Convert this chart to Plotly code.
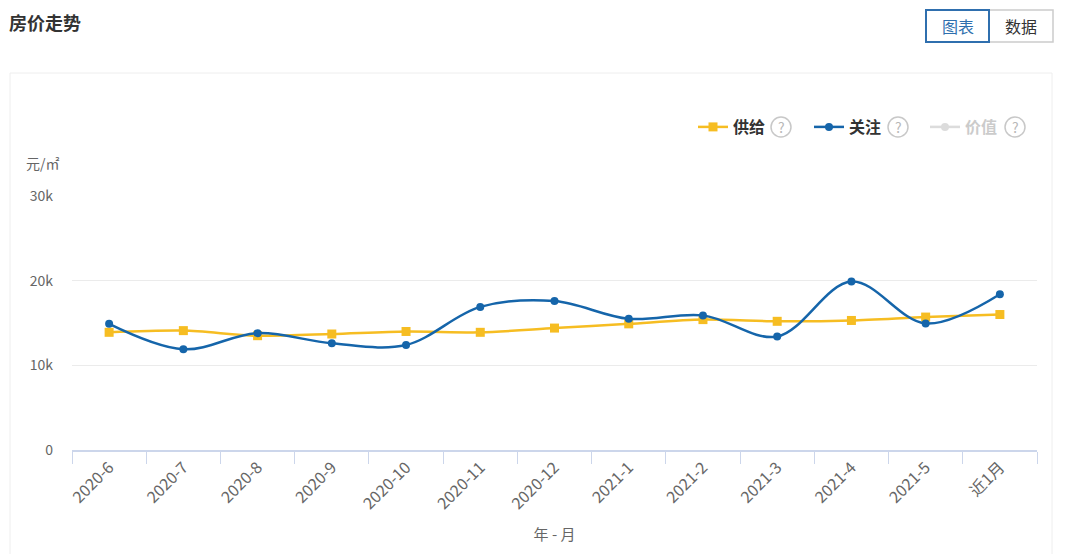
import plotly.graph_objects as go

months = ["2020-6", "2020-7", "2020-8", "2020-9", "2020-10", "2020-11", "2020-12",
          "2021-1", "2021-2", "2021-3", "2021-4", "2021-5", "近1月"]
supply = [13900, 14100, 13500, 13700, 14000, 13900, 14400, 14900, 15400, 15200, 15300, 15700, 16000]
attention = [14900, 11900, 13800, 12600, 12400, 16900, 17600, 15500, 15900, 13400, 19900, 14950, 18400]
value = [None] * 13
yticks = [0, 10000, 20000, 30000]
ytick_text = ["0", "10k", "20k", "30k"]

FONT = "Noto Sans CJK SC, Microsoft YaHei, sans-serif"
W, H = 1080, 554
L, R, T, B = 72, 43, 196, 104
PW, PH = W - L - R, H - T - B


def px(x):
    return (x - L) / PW


def py(y):
    return (H - B - y) / PH


fig = go.Figure()
fig.add_trace(go.Scatter(
    x=months, y=supply, name="<b>供给</b>", mode="lines+markers",
    line=dict(color="#f6bd22", width=2.5, shape="spline", smoothing=0.8),
    marker=dict(symbol="square", size=9, color="#f6bd22"),
))
fig.add_trace(go.Scatter(
    x=months, y=attention, name="<b>关注</b>", mode="lines+markers",
    line=dict(color="#1565aa", width=2.5, shape="spline", smoothing=1),
    marker=dict(symbol="circle", size=8, color="#1565aa"),
))
fig.add_trace(go.Scatter(
    x=months, y=value, name="<b><span style='color:#999'>价值</span></b>", mode="lines+markers",
    line=dict(color="#bbbbbb", width=2.5), marker=dict(symbol="circle", size=8, color="#bbbbbb"),
    visible="legendonly",
))

shapes = []
annotations = []

# card border
shapes.append(dict(type="rect", xref="paper", yref="paper", x0=px(10), x1=px(1052), y0=py(560), y1=py(73),
                   line=dict(color="#eeeeee", width=1), fillcolor="rgba(0,0,0,0)", layer="below"))

# title
annotations.append(dict(text="<b>房价走势</b>", xref="paper", yref="paper", x=px(7), y=py(22),
                        xanchor="left", yanchor="middle", showarrow=False,
                        font=dict(size=18, color="#333333", family=FONT)))

# buttons
shapes.append(dict(type="rect", xref="paper", yref="paper", x0=px(989), x1=px(1053), y0=py(42), y1=py(10),
                   line=dict(color="#cccccc", width=1.5), fillcolor="rgba(0,0,0,0)"))
shapes.append(dict(type="rect", xref="paper", yref="paper", x0=px(926), x1=px(989), y0=py(42), y1=py(10),
                   line=dict(color="#2f6fae", width=2), fillcolor="rgba(0,0,0,0)"))
annotations.append(dict(text="图表", xref="paper", yref="paper", x=px(957.5), y=py(26), showarrow=False,
                        xanchor="center", yanchor="middle",
                        font=dict(size=16, color="#2f6fae", family=FONT)))
annotations.append(dict(text="数据", xref="paper", yref="paper", x=px(1021), y=py(26), showarrow=False,
                        xanchor="center", yanchor="middle",
                        font=dict(size=16, color="#333333", family=FONT)))

# question icons in legend
for cx in [781, 898, 1015]:
    shapes.append(dict(type="circle", xref="paper", yref="paper", xsizemode="pixel", ysizemode="pixel",
                       xanchor=px(cx), yanchor=py(127), x0=-10, x1=10, y0=-10, y1=10,
                       line=dict(color="#c8c8c8", width=1.5), fillcolor="rgba(0,0,0,0)"))
    annotations.append(dict(text="?", xref="paper", yref="paper", x=px(cx), y=py(127), showarrow=False,
                            xanchor="center", yanchor="middle",
                            font=dict(size=14, color="#b8b8b8", family=FONT)))

# unit
annotations.append(dict(text="元/㎡", xref="paper", yref="paper", x=px(43), y=py(163), showarrow=False,
                        xanchor="center", yanchor="middle",
                        font=dict(size=14, color="#666666", family=FONT)))

fig.update_layout(
    width=W, height=H,
    margin=dict(l=L, r=R, t=T, b=B, autoexpand=False),
    paper_bgcolor="white", plot_bgcolor="white",
    font=dict(family=FONT, color="#666666", size=13),
    showlegend=True,
    legend=dict(orientation="h", x=px(693), y=py(127), xanchor="left", yanchor="middle",
                font=dict(size=16, color="#333333", family=FONT),
                entrywidth=71, entrywidthmode="pixels", itemwidth=30,
                bgcolor="rgba(0,0,0,0)", itemclick=False, itemdoubleclick=False),
    shapes=shapes, annotations=annotations,
    xaxis=dict(
        type="category", tickangle=-45, tickson="boundaries", ticks="outside", ticklen=12,
        tickcolor="#ccd6eb", showline=True, linecolor="#ccd6eb", linewidth=1.5, showgrid=False,
        tickfont=dict(size=16, color="#666666"),
        title=dict(text="年 - 月", font=dict(size=15, color="#666666"), standoff=17),
        range=[-0.5, 12.5], automargin=False,
    ),
    yaxis=dict(
        range=[0, 30000], tickvals=yticks, ticktext=ytick_text, showgrid=True, gridcolor="#ebebeb",
        zeroline=False, showline=False, tickfont=dict(size=14, color="#666666"), ticklabelstandoff=18,
        automargin=False,
    ),
)

fig.write_html("out.html")
